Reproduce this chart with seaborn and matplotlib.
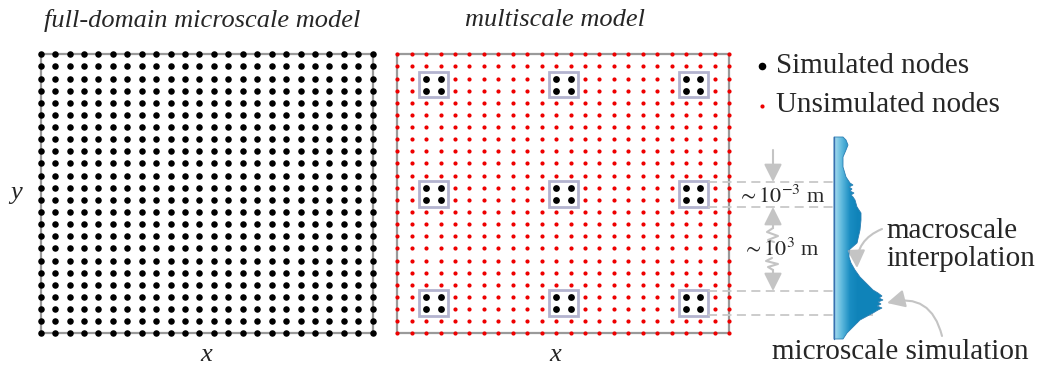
import matplotlib
matplotlib.use('Agg')
import matplotlib.pyplot as plt
import seaborn as sns
import numpy as np
import pandas as pd
from matplotlib.patches import Rectangle, Polygon
from matplotlib.colors import LinearSegmentedColormap

# grid of nodes and which ones are simulated in the multiscale model
n_nodes = 24
sim_idx = [2, 3, 11, 12, 20, 21]
box_starts = [2, 11, 20]

# right-hand profile outline (pixel coords)
profile_y = [137, 140, 145, 150, 157, 167, 177, 183, 185, 187, 189, 191, 193, 195, 197,
             200, 207, 213, 220, 230, 243, 250, 257, 263, 270, 277, 283, 290, 293, 296,
             298, 300, 302, 304, 306, 308, 310, 313, 320, 327, 333, 339]
profile_x = [843, 846, 848, 846, 843, 843, 846, 850, 853, 849, 852, 850, 854, 851, 853,
             855, 857, 861, 861, 860, 857, 849, 849, 851, 855, 860, 866, 873, 878, 882,
             879, 883, 878, 881, 877, 882, 878, 873, 860, 853, 847, 843]

# dashed guide lines: height and where they stop
guide_y = [182, 207, 291, 315]
guide_end = [852, 853, 874, 873]

titles = ['full-domain microscale model', 'multiscale model']
legend_labels = ['Simulated nodes', 'Unsimulated nodes']

sns.set_theme(style='white')
plt.rcParams['font.family'] = ['Liberation Serif', 'DejaVu Serif']
plt.rcParams['mathtext.fontset'] = 'stix'

W, H = 1045, 369
fig = plt.figure(figsize=(W / 100, H / 100), dpi=100)


def px_rect(x0, x1, y0, y1):
    return [x0 / W, 1 - y1 / H, (x1 - x0) / W, (y1 - y0) / H]


ax1 = fig.add_axes(px_rect(40.7, 372.7, 54.3, 333.3))
ax2 = fig.add_axes(px_rect(397.3, 729.3, 54.3, 333.3))

cols, rows = np.meshgrid(np.arange(n_nodes), np.arange(n_nodes))
nodes = pd.DataFrame({'col': cols.ravel(), 'row': rows.ravel()})
nodes['simulated'] = nodes['col'].isin(sim_idx) & nodes['row'].isin(sim_idx)

# full-domain model: every node simulated
sns.scatterplot(data=nodes, x='col', y='row', ax=ax1, color='black', s=22,
                linewidth=0, clip_on=False, zorder=3)

# multiscale model: red unsimulated, black simulated patches
sns.scatterplot(data=nodes[~nodes['simulated']], x='col', y='row', ax=ax2,
                color='#ee0000', s=9, linewidth=0, clip_on=False, zorder=3)
sns.scatterplot(data=nodes[nodes['simulated']], x='col', y='row', ax=ax2,
                color='black', s=24, linewidth=0, clip_on=False, zorder=3)
for bx in box_starts:
    for by in box_starts:
        ax2.add_patch(Rectangle((bx - 0.5, by - 0.55), 2.0, 2.1, fill=False,
                                ec='#b3b3cf', lw=2, zorder=2))

for ax in (ax1, ax2):
    ax.set_xlim(0, n_nodes - 1)
    ax.set_ylim(n_nodes - 1, 0)
    ax.set_xticks([])
    ax.set_yticks([])
    ax.set_xlabel('')
    ax.set_ylabel('')
    for sp in ax.spines.values():
        sp.set_color('#9a9a9a')
        sp.set_linewidth(1.6)

# overlay in pixel coordinates for the annotations
ov = fig.add_axes([0, 0, 1, 1], zorder=5)
ov.patch.set_alpha(0)

ov.text(202, 20, titles[0], ha='center', va='center', style='italic', fontsize=19)
ov.text(555, 20, titles[1], ha='center', va='center', style='italic', fontsize=19)
ov.text(206, 355, 'x', ha='center', va='center', style='italic', fontsize=19)
ov.text(555, 355, 'x', ha='center', va='center', style='italic', fontsize=19)
ov.text(16, 193, 'y', ha='center', va='center', style='italic', fontsize=19)

# legend
ov.scatter([762], [66], s=30, color='black', linewidth=0)
ov.scatter([762], [106], s=9, color='#ee0000', linewidth=0)
ov.text(776, 66, legend_labels[0], ha='left', va='center', fontsize=21)
ov.text(776, 105, legend_labels[1], ha='left', va='center', fontsize=21)

# profile with horizontal gradient
outline = list(zip(profile_x, profile_y)) + [(834, 339), (834, 137)]
poly = Polygon(outline, closed=True, facecolor='none', edgecolor='#2b7fb3', lw=0.6, zorder=4)
ov.add_patch(poly)
cmap = LinearSegmentedColormap.from_list('prof', ['#a9ddef', '#5db8dd', '#1a8dc2', '#0f83b9'])
grad = np.linspace(0, 1, 256).reshape(1, -1)
im = ov.imshow(grad, extent=[834, 858, 339, 137], cmap=cmap, aspect='auto', zorder=3)
im.set_clip_path(poly)
ov.add_patch(Rectangle((857, 137), 30, 202, facecolor='#0f83b9', edgecolor='none',
                       zorder=3, clip_path=poly))
ov.plot([834, 834], [137, 339], color='#3a6fb0', lw=1, zorder=5)

for y, xe in zip(guide_y, guide_end):
    ov.plot([708, xe], [y, y], color='#c8c8c8', lw=1.3, ls=(0, (5, 3)), zorder=2)

arrow = dict(arrowstyle='-|>,head_length=0.9,head_width=0.45', color='#c4c4c4', lw=1.5,
             shrinkA=0, shrinkB=0)
ov.annotate('', xy=(773, 182), xytext=(773, 150), arrowprops=arrow)
ov.annotate('', xy=(773, 207), xytext=(773, 228), arrowprops=arrow)
ov.annotate('', xy=(773, 291), xytext=(773, 270), arrowprops=arrow)
ov.plot([773, 767, 778, 768, 774], [228, 232, 236, 240, 242], color='#c4c4c4', lw=1.5)
ov.plot([772, 766, 778, 768, 773], [258, 261, 264, 267, 270], color='#c4c4c4', lw=1.5)

ov.text(781, 197, r'$\sim 10^{-3}$ m', ha='center', va='center', fontsize=16)
ov.text(781, 250, r'$\sim 10^{3}$ m', ha='center', va='center', fontsize=16)

ov.text(886, 245, 'macroscale\ninterpolation', ha='left', va='center', fontsize=21,
        linespacing=1.12)
ov.annotate('', xy=(857, 268), xytext=(882, 229),
            arrowprops=dict(arrow, connectionstyle='arc3,rad=0.35'))
ov.text(900, 352, 'microscale simulation', ha='center', va='center', fontsize=21)
ov.annotate('', xy=(887, 303), xytext=(942, 336),
            arrowprops=dict(arrow, connectionstyle='arc3,rad=0.5'))

ov.set_xlim(0, W)
ov.set_ylim(H, 0)
ov.axis('off')

fig.savefig('out.png', dpi=100)
